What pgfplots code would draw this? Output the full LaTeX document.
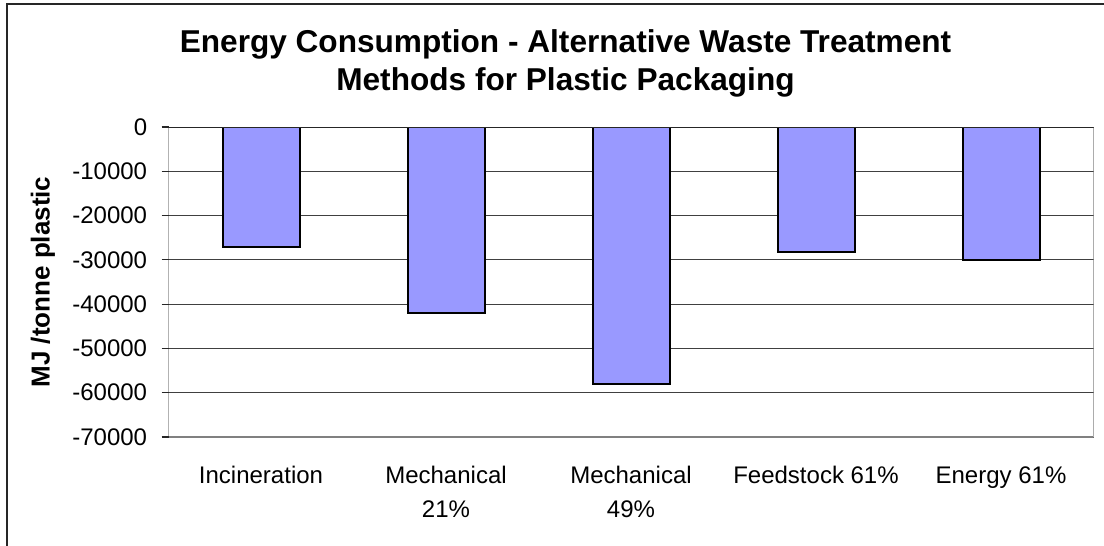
\documentclass[border=0pt]{standalone}
\usepackage{pgfplots}
\pgfplotsset{compat=1.18}
\usepackage{fontspec}
\setmainfont{Liberation Sans}
\definecolor{barfill}{HTML}{9999FF}
\begin{document}
\begin{tikzpicture}
\useasboundingbox (0,0) rectangle (552bp,273bp);
\fill[white] (0,0) rectangle (552bp,273bp);
\draw[black!85, line width=0.75bp] (3.5bp,-1bp) -- (3.5bp,271bp) -- (553bp,271bp);
\node[anchor=base, inner sep=0pt, font=\bfseries\fontsize{15.8bp}{19bp}\selectfont] at (282.75bp,246.5bp) {Energy Consumption - Alternative Waste Treatment};
\node[anchor=base, inner sep=0pt, font=\bfseries\fontsize{15.8bp}{19bp}\selectfont] at (282.75bp,227.5bp) {Methods for Plastic Packaging};
\begin{axis}[
  at={(84.25bp,54.5bp)}, anchor=south west,
  scale only axis, width=462.5bp, height=155bp,
  xmin=-0.5, xmax=4.5, ymin=-70000, ymax=0,
  axis line style={draw=none},
  scaled y ticks=false,
  xtick={0,1,2,3,4},
  xticklabels={Incineration, Mechanical\\21\%, Mechanical\\49\%, Feedstock 61\%, Energy 61\%},
  xtick style={draw=none},
  xticklabel style={align=center, anchor=north, inner sep=0pt, yshift=-11bp, font=\fontsize{12bp}{17bp}\selectfont},
  ytick={-70000,-60000,-50000,-40000,-30000,-20000,-10000,0},
  yticklabels={-70000,-60000,-50000,-40000,-30000,-20000,-10000,0},
  ytick pos=left,
  tick align=outside,
  major tick length=3.5bp,
  ytick style={black!85, line width=0.6bp},
  yticklabel style={anchor=east, inner sep=0pt, xshift=-7bp, font=\fontsize{12bp}{14bp}\selectfont},
  ymajorgrids,
  grid style={black!75, line width=0.5bp},
  ylabel={MJ /tonne plastic},
  ylabel style={at={(axis description cs:0,0.5)}, anchor=center, rotate=0, yshift=62.75bp, font=\bfseries\fontsize{13bp}{15bp}\selectfont},
]
\addplot[ybar, bar width=38.5bp, fill=barfill, draw=black, line width=1bp] coordinates {(0,-27000) (1,-41900) (2,-58000) (3,-28300) (4,-30100)};
\draw[gray, line width=1bp] (rel axis cs:0,0) -- (rel axis cs:1,0) -- (rel axis cs:1,1);
\draw[black!85, line width=0.75bp] (rel axis cs:0,0) -- (rel axis cs:0,1) -- (rel axis cs:1,1);
\draw[black!85, line width=0.6bp] (axis cs:0.5,0) -- ++(0,-4bp);
\draw[black!85, line width=0.6bp] (axis cs:1.5,0) -- ++(0,-4bp);
\draw[black!85, line width=0.6bp] (axis cs:2.5,0) -- ++(0,-4bp);
\draw[black!85, line width=0.6bp] (axis cs:3.5,0) -- ++(0,-4bp);
\draw[black!85, line width=0.6bp] (axis cs:4.5,0) -- ++(0,-4bp);
\end{axis}
\end{tikzpicture}
\end{document}
